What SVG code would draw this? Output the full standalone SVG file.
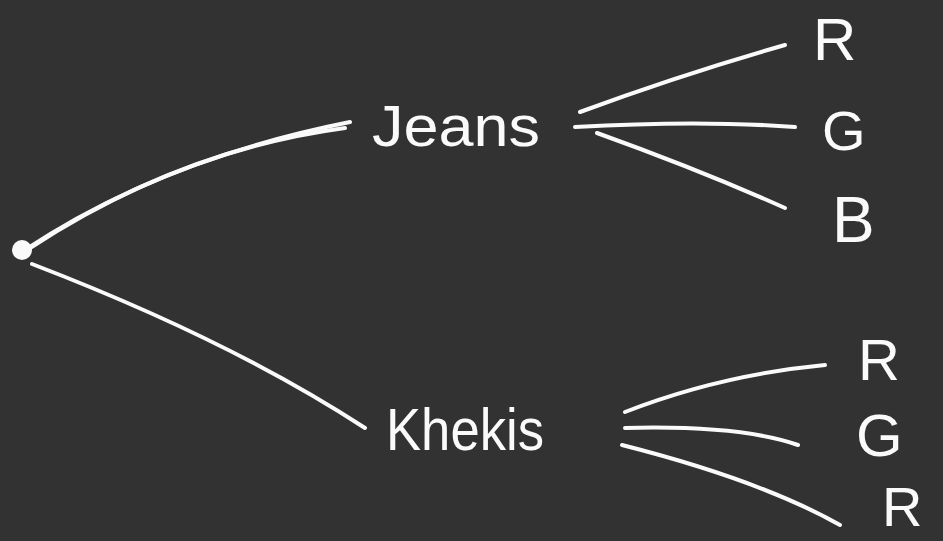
<svg xmlns="http://www.w3.org/2000/svg" width="943" height="541" viewBox="0 0 943 541">
<style>
.c{fill:none;stroke:#fafafa;stroke-width:4;stroke-linecap:round}
.t{fill:#fafafa;font-family:"Liberation Sans",Arial,sans-serif}
</style>
<rect width="943" height="541" fill="#323232"/>
<g id="connectors">
<path class="c" d="M25 250 Q160 160 350 122" stroke-width="6"/>
<path class="c" d="M30 248 Q180 150 345 128"/>
<path class="c" d="M32 264 Q230 340 365 428"/>
<path class="c" d="M580 112 Q680 75 785 45"/>
<path class="c" d="M575 127 Q700 120 795 127"/>
<path class="c" d="M597 133 Q700 170 785 208"/>
<path class="c" d="M625 412 Q720 375 825 365"/>
<path class="c" d="M625 428 Q740 425 798 445"/>
<path class="c" d="M622 445 Q760 480 840 525"/>
</g>
<g id="root"><circle cx="22" cy="250" r="10" fill="#fafafa"/></g>
<g id="jeans"><text class="t" x="372" y="146" font-size="58" textLength="168" lengthAdjust="spacingAndGlyphs">Jeans</text></g>
<g id="khekis"><text class="t" x="386" y="450" font-size="60" textLength="158" lengthAdjust="spacingAndGlyphs">Khekis</text></g>
<g id="j-r"><text class="t" x="813" y="60" font-size="60">R</text></g>
<g id="j-g"><text class="t" x="822" y="150" font-size="56">G</text></g>
<g id="j-b"><text class="t" x="832" y="242" font-size="64">B</text></g>
<g id="k-r"><text class="t" x="858" y="380" font-size="58">R</text></g>
<g id="k-g"><text class="t" x="856" y="456" font-size="60">G</text></g>
<g id="k-r2"><text class="t" x="882" y="526" font-size="56">R</text></g>
</svg>
